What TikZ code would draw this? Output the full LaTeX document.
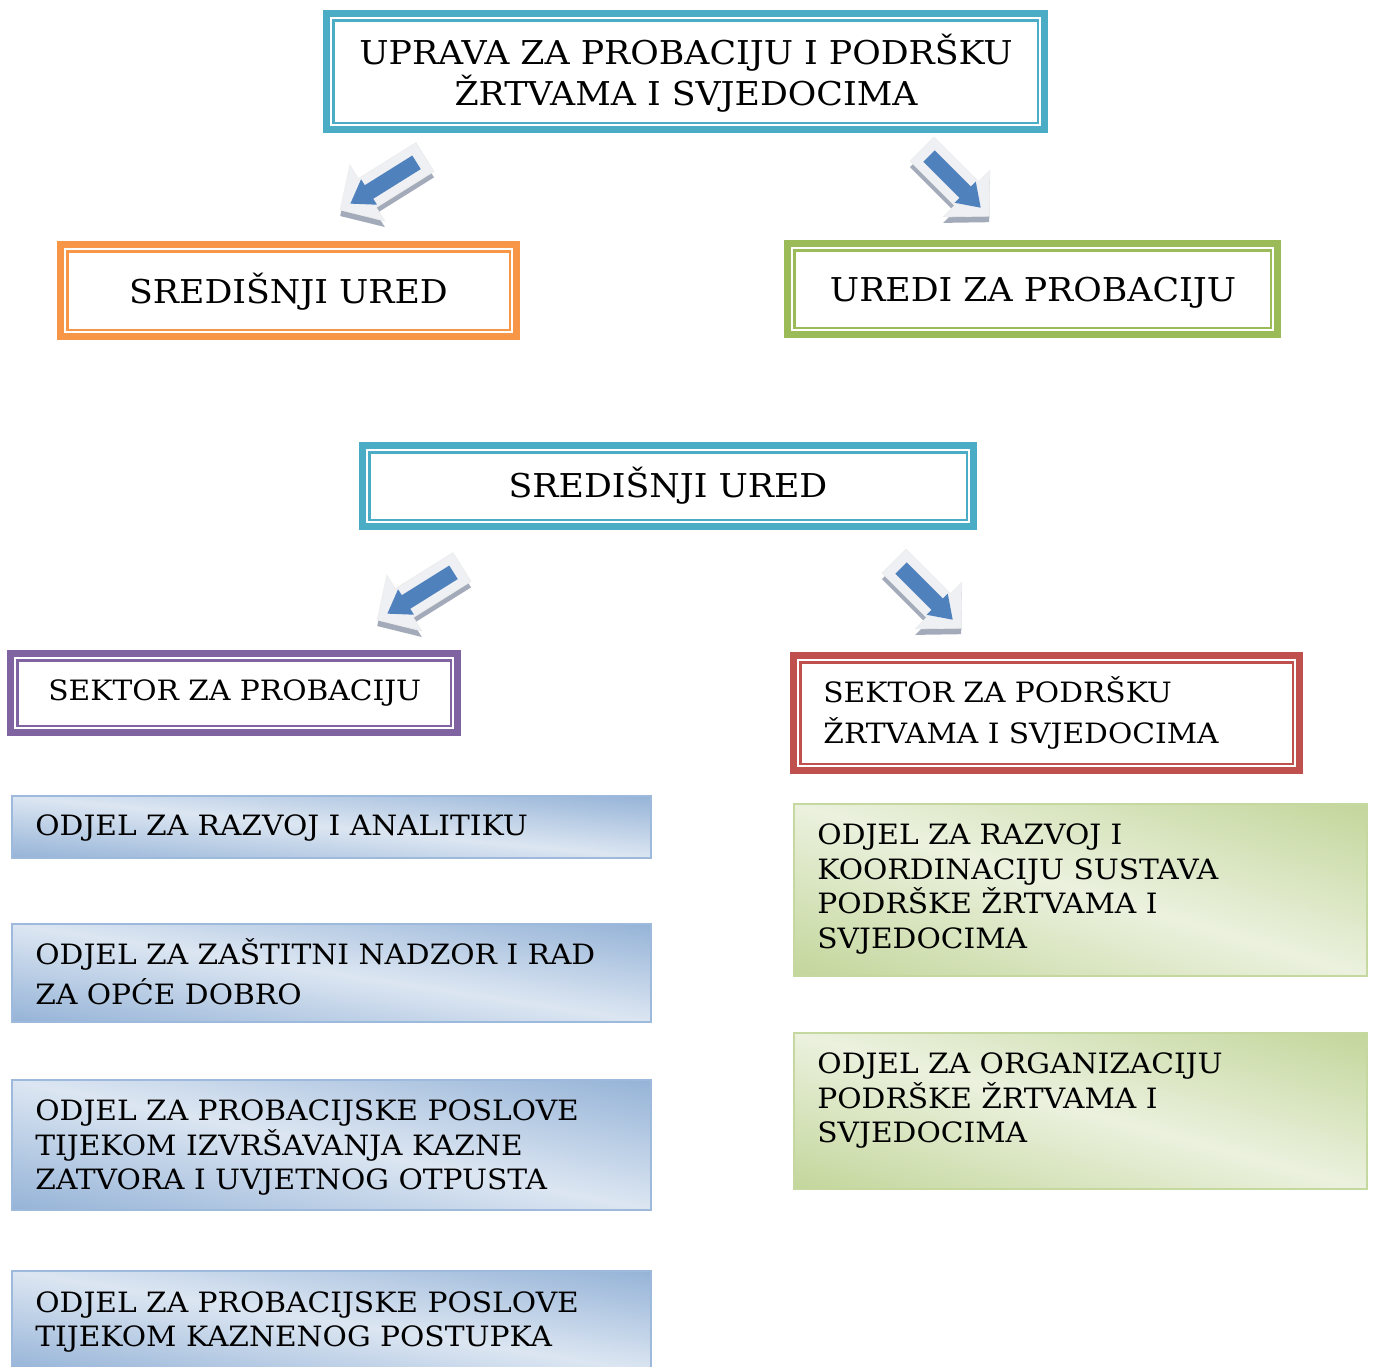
\documentclass[tikz,border=0pt]{standalone}
\usepackage{fontspec}
\setmainfont{DejaVu Serif}[FakeStretch=1.06]
\usetikzlibrary{fit}
\definecolor{teal1}{HTML}{4BACC6}
\definecolor{orange1}{HTML}{F79646}
\definecolor{green1}{HTML}{9BBB59}
\definecolor{purple1}{HTML}{8064A2}
\definecolor{red1}{HTML}{C0504D}
\definecolor{bdark}{HTML}{95B3D7}
\definecolor{blight}{HTML}{DCE6F2}
\definecolor{bborder}{HTML}{9DB9DB}
\definecolor{gdark}{HTML}{C3D69B}
\definecolor{glight}{HTML}{EBF1DE}
\definecolor{gborder}{HTML}{C5D8A0}
\definecolor{arrblue}{HTML}{4F81BD}
\definecolor{arrshadow}{HTML}{A3ABBA}
\definecolor{arrlight}{HTML}{EFF0F3}
\newcommand\fsz[2]{\fontsize{#1}{#2}\selectfont}
\tikzset{
  dbox/.style={draw=#1, line width=3.5pt, inner sep=0pt, outer sep=0pt, fill=white},
  dinner/.style={draw=#1, line width=1.25pt},
  gbox/.style={draw=#1, line width=1pt, inner sep=0pt, outer sep=0pt},
  bigtxt/.style={font=\fsz{16.4pt}{20.5pt}, inner sep=0pt, align=center},
  smtxt/.style={font=\fsz{14pt}{17.25pt}, inner sep=0pt, align=left, anchor=west},
}
\newcommand\dblbox[6]{%
  \node[dbox=#6, fit={(#2+3.5,#3+3.5) (#4-3.5,#5-3.5)}] (#1) {};
  \draw[dinner=#6] ([shift={(6.75,6.75)}]#1.north west) rectangle ([shift={(-6.75,-6.75)}]#1.south east);
}
% name x1 y1 x2 y2 dark light border
\newcommand\gradbox[8]{%
  \pgfmathsetmacro\gw{(#4-#2)/100}%
  \pgfmathsetmacro\gh{(#5-#3)/100}%
  \pgfmathsetmacro\ga{atan(\gh/\gw)}%
  \pgfmathsetmacro\gd{100*\gw*\gh/veclen(\gw,\gh)}%
  \pgfmathsetmacro\gW{100*\gw}%
  \pgfmathsetmacro\gcx{(#2+#4)/2}%
  \pgfmathsetmacro\gcy{(#3+#5)/2}%
  \begin{scope}
    \clip (#2,#3) rectangle (#4,#5);
    \shade[transform canvas={shift={(\gcx,\gcy)}, rotate=-\ga},
      top color=#6, bottom color=#6, middle color=#7] (-\gW,-\gd) rectangle (\gW,\gd);
  \end{scope}
  \node[gbox=#8, fit={(#2,#3) (#4,#5)}] (#1) {};
}
\newcommand\arrshape[5]{% L w h hl offset
  (#5,-#2) -- (#5+#1-#4,-#2) -- (#5+#1-#4,-#3) -- (#5+#1,0) -- (#5+#1-#4,#3) -- (#5+#1-#4,#2) -- (#5,#2) -- cycle}
\newcommand\blockarrow[4]{% x y angle L
  \begin{scope}[shift={(#1,#2+6)}, rotate=#3]
    \fill[arrshadow] \arrshape{#4}{17}{33}{32}{0};
  \end{scope}
  \begin{scope}[shift={(#1,#2)}, rotate=#3]
    \fill[arrlight, draw=white!85!gray, line width=0.3pt] \arrshape{#4}{17}{33}{32}{0};
    \fill[arrblue] \arrshape{#4-22}{8}{15}{22}{10};
  \end{scope}
}
\begin{document}
\begin{tikzpicture}[x=0.5pt, y=-0.5pt]
\useasboundingbox[fill=white] (0,0) rectangle (1374,1366);

% top level
\dblbox{uprava}{323}{10}{1048}{133}{teal1}
\node[bigtxt] (tuprava) at (686,73.5) {UPRAVA ZA PROBACIJU I PODRŠKU\\ŽRTVAMA I SVJEDOCIMA};

\blockarrow{425}{157}{212}{100}
\blockarrow{922}{149}{-45}{95}

\dblbox{sred1}{57}{241}{520}{340}{orange1}
\node[bigtxt] (tsred1) at (288.5,292) {SREDIŠNJI URED};
\dblbox{uredi}{784}{240}{1281}{338}{green1}
\node[bigtxt] (turedi) at (1033,293) {UREDI ZA PROBACIJU};

% second chart
\dblbox{sred2}{359}{442}{977}{530}{teal1}
\node[bigtxt] (tsred2) at (668,486) {SREDIŠNJI URED};

\blockarrow{462}{567}{212}{100}
\blockarrow{894}{561}{-45}{95}

\dblbox{sekprob}{7}{650}{461}{736}{purple1}
\node[smtxt] (tsekprob) at (48,693) {SEKTOR ZA PROBACIJU};
\dblbox{sekpod}{790}{652}{1303}{774}{red1}
\node[smtxt, font=\fsz{14pt}{20.5pt}] (tsekpod) at (823,713) {SEKTOR ZA PODRŠKU\\ŽRTVAMA I SVJEDOCIMA};

% left column
\gradbox{b1}{12}{796}{651}{858}{bdark}{blight}{bborder}
\node[smtxt] (tb1) at (35,828) {ODJEL ZA RAZVOJ I ANALITIKU};
\gradbox{b2}{12}{924}{651}{1022}{bdark}{blight}{bborder}
\node[smtxt, font=\fsz{14pt}{20pt}] (tb2) at (35,972) {ODJEL ZA ZAŠTITNI NADZOR I RAD\\ZA OPĆE DOBRO};
\gradbox{b3}{12}{1080}{651}{1210}{bdark}{blight}{bborder}
\node[smtxt] (tb3) at (35,1147.5) {ODJEL ZA PROBACIJSKE POSLOVE\\TIJEKOM IZVRŠAVANJA KAZNE\\ZATVORA I UVJETNOG OTPUSTA};
\gradbox{b4}{12}{1271}{651}{1372}{bdark}{blight}{bborder}
\node[smtxt] (tb4) at (35,1322) {ODJEL ZA PROBACIJSKE POSLOVE\\TIJEKOM KAZNENOG POSTUPKA};

% right column
\gradbox{g1}{794}{804}{1367}{976}{gdark}{glight}{gborder}
\node[smtxt] (tg1) at (817,889) {ODJEL ZA RAZVOJ I\\KOORDINACIJU SUSTAVA\\PODRŠKE ŽRTVAMA I\\SVJEDOCIMA};
\gradbox{g2}{794}{1033}{1367}{1189}{gdark}{glight}{gborder}
\node[smtxt] (tg2) at (817,1100.5) {ODJEL ZA ORGANIZACIJU\\PODRŠKE ŽRTVAMA I\\SVJEDOCIMA};
\end{tikzpicture}
\end{document}
